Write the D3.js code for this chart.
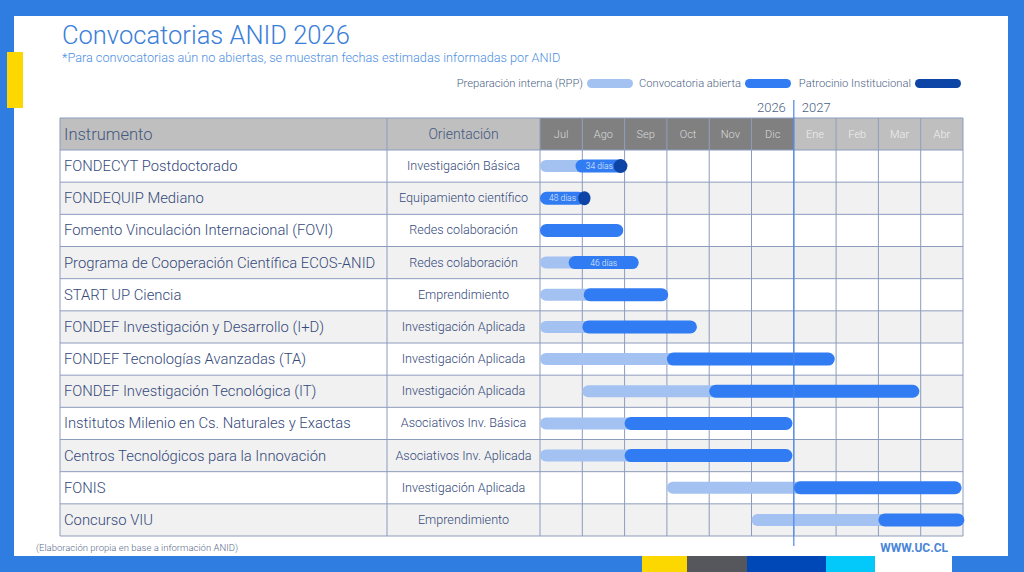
<!DOCTYPE html>
<meta charset="utf-8">
<head>
    <script type="text/javascript" src="https://cdn.jsdelivr.net/npm/d3@7"></script>
    <style>
        body { margin: 0; background: #2F7DE0; }
        svg { display: block; font-family: Roboto, "Open Sans", sans-serif; }
    </style>
</head>
<body>
<div id="gantt"></div>
</body>
<script>
    // data
    var instrumentos = [
        "FONDECYT Postdoctorado",
        "FONDEQUIP Mediano",
        "Fomento Vinculación Internacional (FOVI)",
        "Programa de Cooperación Científica ECOS-ANID",
        "START UP Ciencia",
        "FONDEF Investigación y Desarrollo (I+D)",
        "FONDEF Tecnologías Avanzadas (TA)",
        "FONDEF Investigación Tecnológica (IT)",
        "Institutos Milenio en Cs. Naturales y Exactas",
        "Centros Tecnológicos para la Innovación",
        "FONIS",
        "Concurso VIU"
    ];
    var orientaciones = [
        "Investigación Básica",
        "Equipamiento científico",
        "Redes colaboración",
        "Redes colaboración",
        "Emprendimiento",
        "Investigación Aplicada",
        "Investigación Aplicada",
        "Investigación Aplicada",
        "Asociativos Inv. Básica",
        "Asociativos Inv. Aplicada",
        "Investigación Aplicada",
        "Emprendimiento"
    ];
    // preparación interna (RPP)
    var prepInicio = ["2026-07-01", null, null, "2026-07-01", "2026-07-01", "2026-07-01",
        "2026-07-01", "2026-08-01", "2026-07-01", "2026-07-01", "2026-10-01", "2026-12-01"];
    // convocatoria abierta
    var abiertaInicio = ["2026-07-27", "2026-07-01", "2026-07-01", "2026-07-22", "2026-08-02", "2026-08-01",
        "2026-10-01", "2026-11-01", "2026-09-01", "2026-09-01", "2027-01-01", "2027-03-01"];
    var abiertaFin = ["2026-08-31", "2026-08-03", "2026-08-31", "2026-09-11", "2026-10-02", "2026-10-23",
        "2027-01-31", "2027-03-31", "2026-12-31", "2026-12-31", "2027-04-30", "2027-05-02"];
    // patrocinio institucional
    var patrocinioInicio = ["2026-08-24", "2026-07-29", null, null, null, null, null, null, null, null, null, null];
    var patrocinioFin = ["2026-09-03", "2026-08-07", null, null, null, null, null, null, null, null, null, null];
    var etiquetas = ["34 días", "48 días", "", "46 días", "", "", "", "", "", "", "", ""];

    var meses = ["Jul", "Ago", "Sep", "Oct", "Nov", "Dic", "Ene", "Feb", "Mar", "Abr"];
    var anioMes = [2026, 2026, 2026, 2026, 2026, 2026, 2027, 2027, 2027, 2027];
    var anios = ["2026", "2027"];
    var leyenda = ["Preparación interna (RPP)", "Convocatoria abierta", "Patrocinio Institucional"];

    var colores = {prep: "#A3C2F2", abierta: "#317CF2", patro: "#0C45A6"};

    var width = 1024, height = 572;
    var tabla = {x0: 60, xOri: 387, xMes: 540, x1: 963, y0: 118, cab: 32, y1: 536};

    var svg = d3.select("#gantt").append("svg")
        .attr("width", width)
        .attr("height", height);

    // frame
    svg.append("rect").attr("width", width).attr("height", height).attr("fill", "#2F7DE0");
    svg.append("rect").attr("x", 14).attr("y", 16).attr("width", 994).attr("height", 540).attr("fill", "#fff");
    svg.append("rect").attr("x", 7).attr("y", 52).attr("width", 16).attr("height", 56).attr("fill", "#FDD800");
    var banda = [[642, 687, "#FDD800"], [687, 747, "#55575C"], [747, 826, "#0048B8"], [826, 875, "#03C8FA"], [875, 952, "#fff"]];
    svg.selectAll(".banda").data(banda).enter().append("rect")
        .attr("x", d => d[0]).attr("y", 556).attr("width", d => d[1] - d[0]).attr("height", 16)
        .attr("fill", d => d[2]);

    // titles
    svg.append("text").text("Convocatorias ANID 2026")
        .attr("x", 62).attr("y", 44)
        .attr("font-size", 25.5).attr("font-weight", 300).attr("fill", "#3A7ED9");
    svg.append("text").text("*Para convocatorias aún no abiertas, se muestran fechas estimadas informadas por ANID")
        .attr("x", 62).attr("y", 62)
        .attr("font-size", 12.7).attr("font-weight", 300).attr("fill", "#4E8FE2");

    // legend
    var legX = [583, 741, 911];
    var legCol = [colores.prep, colores.abierta, colores.patro];
    leyenda.forEach(function (t, i) {
        svg.append("text").text(t)
            .attr("x", legX[i]).attr("y", 87).attr("text-anchor", "end")
            .attr("font-size", 11.2).attr("font-weight", 300).attr("fill", "#4A5F85");
        svg.append("rect").attr("x", legX[i] + 4).attr("y", 79).attr("width", 46).attr("height", 9)
            .attr("rx", 4.5).attr("fill", legCol[i]);
    });

    // scales
    function posMes(s) {
        var d = d3.timeParse("%Y-%m-%d")(s);
        var dias = new Date(d.getFullYear(), d.getMonth() + 1, 0).getDate();
        return (d.getFullYear() - 2026) * 12 + d.getMonth() - 6 + (d.getDate() - 1) / dias;
    }
    var x = d3.scaleLinear().domain([0, meses.length]).range([tabla.xMes, tabla.x1]);
    var y = d3.scaleBand().domain(d3.range(instrumentos.length)).range([tabla.y0 + tabla.cab, tabla.y1]);
    var bw = x(1) - x(0);

    // header
    var cab = svg.append("g");
    cab.append("rect").attr("x", tabla.x0).attr("y", tabla.y0).attr("width", tabla.xMes - tabla.x0)
        .attr("height", tabla.cab).attr("fill", "#BFBFBF");
    cab.selectAll(".mes").data(meses).enter().append("rect")
        .attr("x", (d, i) => x(i)).attr("y", tabla.y0).attr("width", bw).attr("height", tabla.cab)
        .attr("fill", (d, i) => anioMes[i] === 2026 ? "#808080" : "#BFBFBF");
    cab.selectAll(".mesTxt").data(meses).enter().append("text").text(d => d)
        .attr("x", (d, i) => x(i) + bw / 2).attr("y", tabla.y0 + 20).attr("text-anchor", "middle")
        .attr("font-size", 11).attr("font-weight", 300)
        .attr("fill", (d, i) => anioMes[i] === 2026 ? "#DADADA" : "#F0F0F0");
    cab.append("text").text("Instrumento").attr("x", tabla.x0 + 4).attr("y", tabla.y0 + 22)
        .attr("font-size", 16.5).attr("font-weight", 300).attr("fill", "#43587E");
    cab.append("text").text("Orientación").attr("x", (tabla.xOri + tabla.xMes) / 2).attr("y", tabla.y0 + 21)
        .attr("text-anchor", "middle").attr("font-size", 14).attr("font-weight", 300).attr("fill", "#43587E");

    // rows
    var filas = svg.append("g");
    filas.selectAll(".fila").data(instrumentos).enter().append("rect")
        .attr("x", tabla.x0).attr("y", (d, i) => y(i)).attr("width", tabla.x1 - tabla.x0)
        .attr("height", y.bandwidth()).attr("fill", (d, i) => i % 2 ? "#F1F1F1" : "#fff");
    filas.selectAll(".inst").data(instrumentos).enter().append("text").text(d => d)
        .attr("x", tabla.x0 + 4).attr("y", (d, i) => y(i) + y.bandwidth() / 2 + 5)
        .attr("font-size", 14.8).attr("font-weight", 300).attr("fill", "#34497A");
    filas.selectAll(".ori").data(orientaciones).enter().append("text").text(d => d)
        .attr("x", (tabla.xOri + tabla.xMes) / 2).attr("y", (d, i) => y(i) + y.bandwidth() / 2 + 4)
        .attr("text-anchor", "middle").attr("font-size", 12.6).attr("font-weight", 300).attr("fill", "#34497A");

    // grid
    var grid = svg.append("g").attr("stroke", "#8C9CBD").attr("stroke-width", 1);
    var hs = [tabla.y0].concat(d3.range(instrumentos.length).map(i => y(i))).concat([tabla.y1]);
    grid.selectAll(".h").data(hs).enter().append("line")
        .attr("x1", tabla.x0).attr("x2", tabla.x1).attr("y1", d => d).attr("y2", d => d);
    var vs = [tabla.x0, tabla.xOri].concat(d3.range(meses.length + 1).map(i => x(i)));
    grid.selectAll(".v").data(vs).enter().append("line")
        .attr("x1", d => d).attr("x2", d => d).attr("y1", tabla.y0).attr("y2", tabla.y1);

    // bars
    var barras = svg.append("g");
    instrumentos.forEach(function (n, i) {
        var cy = y(i) + y.bandwidth() / 2;
        var a0 = x(posMes(abiertaInicio[i])), a1 = x(posMes(abiertaFin[i]));
        if (prepInicio[i]) {
            var p0 = x(posMes(prepInicio[i]));
            barras.append("rect").attr("x", p0).attr("y", cy - 6).attr("width", a0 - p0 + 12)
                .attr("height", 12).attr("rx", 6).attr("fill", colores.prep);
        }
        barras.append("rect").attr("x", a0).attr("y", cy - 6.5).attr("width", a1 - a0)
            .attr("height", 13).attr("rx", 6.5).attr("fill", colores.abierta);
        if (patrocinioInicio[i]) {
            var q0 = x(posMes(patrocinioInicio[i])), q1 = x(posMes(patrocinioFin[i]));
            barras.append("rect").attr("x", q0).attr("y", cy - 7).attr("width", q1 - q0)
                .attr("height", 14).attr("rx", 7).attr("fill", colores.patro);
        }
        if (etiquetas[i]) {
            barras.append("text").text(etiquetas[i]).attr("x", (a0 + a1) / 2).attr("y", cy + 3)
                .attr("text-anchor", "middle").attr("font-size", 8.5).attr("font-weight", 300)
                .attr("fill", "#E2ECFD");
        }
    });

    // year divider
    svg.append("line").attr("x1", x(6)).attr("x2", x(6)).attr("y1", 100).attr("y2", 546)
        .attr("stroke", "#4A86E8").attr("stroke-width", 1.2);
    svg.selectAll(".anio").data(anios).enter().append("text").text(d => d)
        .attr("x", (d, i) => i === 0 ? x(6) - 8 : x(6) + 8).attr("y", 112)
        .attr("text-anchor", (d, i) => i === 0 ? "end" : "start")
        .attr("font-size", 13).attr("font-weight", 300).attr("fill", "#4A5F85");

    // footer
    svg.append("text").text("(Elaboración propia en base a información ANID)")
        .attr("x", 36).attr("y", 551).attr("font-size", 9.5).attr("font-weight", 300).attr("fill", "#5A6B8A");
    svg.append("text").text("WWW.UC.CL")
        .attr("x", 948).attr("y", 552).attr("text-anchor", "end")
        .attr("font-size", 12).attr("font-weight", 700).attr("fill", "#4A86D8");
</script>
</html>
